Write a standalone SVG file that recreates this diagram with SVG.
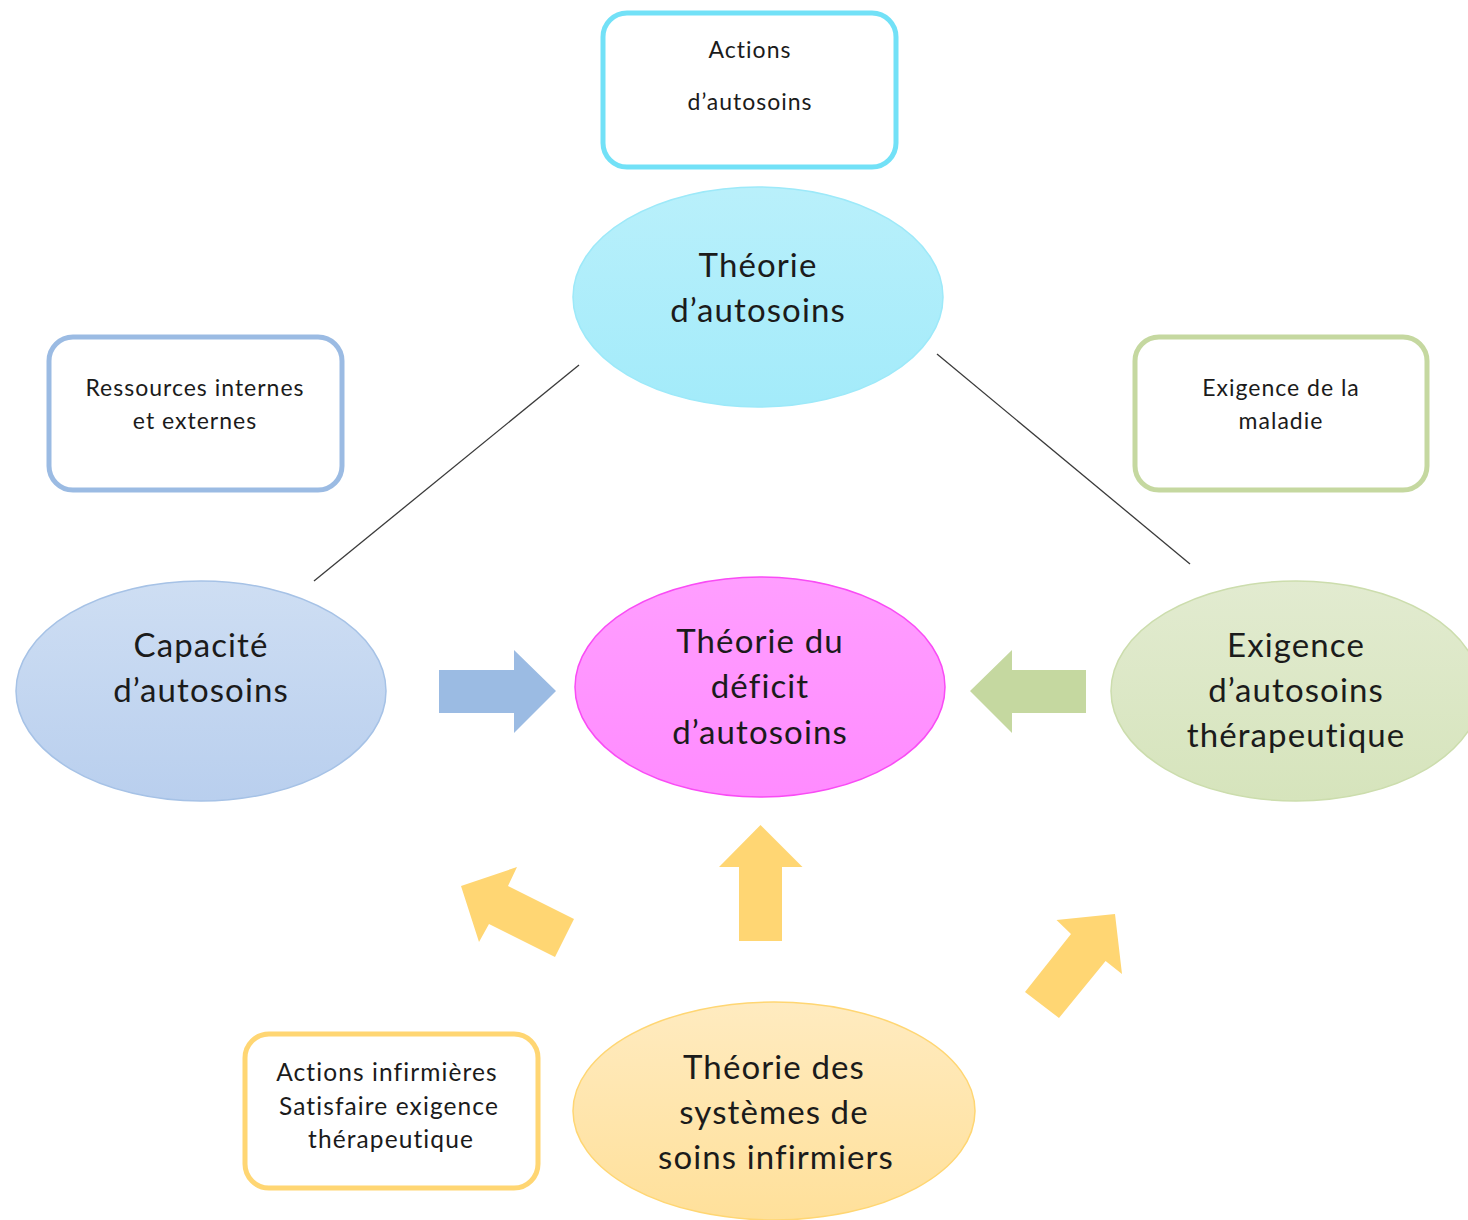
<svg xmlns="http://www.w3.org/2000/svg" width="1468" height="1220" viewBox="0 0 1468 1220">
  <defs>
    <linearGradient id="gCyan" x1="0" y1="0" x2="0" y2="1">
      <stop offset="0" stop-color="#B9F0FB"/>
      <stop offset="1" stop-color="#A3EBFA"/>
    </linearGradient>
    <linearGradient id="gBlue" x1="0" y1="0" x2="0" y2="1">
      <stop offset="0" stop-color="#CEDEF3"/>
      <stop offset="1" stop-color="#B9CFEE"/>
    </linearGradient>
    <linearGradient id="gPink" x1="0" y1="0" x2="0" y2="1">
      <stop offset="0" stop-color="#FF9EFF"/>
      <stop offset="1" stop-color="#FF8BFF"/>
    </linearGradient>
    <linearGradient id="gGreen" x1="0" y1="0" x2="0" y2="1">
      <stop offset="0" stop-color="#E2EBD0"/>
      <stop offset="1" stop-color="#D6E4BC"/>
    </linearGradient>
    <linearGradient id="gYellow" x1="0" y1="0" x2="0" y2="1">
      <stop offset="0" stop-color="#FFEBC0"/>
      <stop offset="1" stop-color="#FFE09A"/>
    </linearGradient>
  </defs>
  <style>
    text { font-family: Lato, "Open Sans", "Liberation Sans", sans-serif; fill: #1b1b1b; text-anchor: middle; font-variant-ligatures: none; }
    .big { font-size: 33px; letter-spacing: 1.1px; }
    .small { font-size: 23px; letter-spacing: 1px; }
    .mid { font-size: 24.5px; letter-spacing: 1.1px; }
    .box { fill: #ffffff; stroke-width: 5; }
    .link { stroke: #3a3a3a; stroke-width: 1.3; fill: none; }
  </style>
  <rect width="1468" height="1220" fill="#ffffff"/>

  <!-- connectors: lines and block arrows -->
  <g id="connectors">
    <line class="link" x1="579" y1="365" x2="314" y2="581"/>
    <line class="link" x1="937" y1="354" x2="1190" y2="564"/>
    <!-- blue arrow into deficit theory -->
    <polygon fill="#9BBBE3" points="439,670 514,670 514,650 556,691 514,733 514,713 439,713"/>
    <!-- green arrow into deficit theory -->
    <polygon fill="#C5D8A0" points="1086,670 1012,670 1012,650 970,691 1012,733 1012,713 1086,713"/>
    <!-- yellow arrows from nursing systems theory -->
    <polygon fill="#FFD673" points="760.5,825 802.5,867 782,867 782,941 739,941 739,867 719,867"/>
    <polygon fill="#FFD673" points="461,886 517,867 508,886 574,919 555,957 489,924 479,942"/>
    <polygon fill="#FFD673" points="1115,914 1122,974 1105.6,961 1059,1018 1025,992 1071,934 1056.5,920"/>
  </g>

  <g id="box-actions-autosoins">
    <rect class="box" x="603" y="13" width="293" height="154" rx="24" stroke="#72E1F7"/>
    <text class="small" x="750" y="58">Actions</text>
    <text class="small" x="750" y="110">d’autosoins</text>
  </g>

  <g id="node-theorie-autosoins">
    <ellipse cx="758" cy="297" rx="185" ry="110" fill="url(#gCyan)" stroke="#9DE9F9" stroke-width="1.5"/>
    <text class="big" x="758" y="277">Théorie</text>
    <text class="big" x="758" y="322">d’autosoins</text>
  </g>

  <g id="box-ressources">
    <rect class="box" x="49" y="337" width="293" height="153" rx="24" stroke="#9BBBE3"/>
    <text class="small" x="195" y="396">Ressources internes</text>
    <text class="small" x="195" y="429">et externes</text>
  </g>

  <g id="box-exigence-maladie">
    <rect class="box" x="1135" y="337" width="292" height="153" rx="24" stroke="#C5D8A0"/>
    <text class="small" x="1281" y="396">Exigence de la</text>
    <text class="small" x="1281" y="429">maladie</text>
  </g>

  <g id="node-capacite">
    <ellipse cx="201" cy="691" rx="185" ry="110" fill="url(#gBlue)" stroke="#A6C2E6" stroke-width="1.5"/>
    <text class="big" x="201" y="657">Capacité</text>
    <text class="big" x="201" y="702">d’autosoins</text>
  </g>

  <g id="node-deficit">
    <ellipse cx="760" cy="687" rx="185" ry="110" fill="url(#gPink)" stroke="#F94BF5" stroke-width="1.5"/>
    <text class="big" x="760" y="653">Théorie du</text>
    <text class="big" x="760" y="698">déficit</text>
    <text class="big" x="760" y="744">d’autosoins</text>
  </g>

  <g id="node-exigence-therapeutique">
    <ellipse cx="1296" cy="691" rx="185" ry="110" fill="url(#gGreen)" stroke="#CCDDAD" stroke-width="1.5"/>
    <text class="big" x="1296" y="657">Exigence</text>
    <text class="big" x="1296" y="702">d’autosoins</text>
    <text class="big" x="1296" y="747">thérapeutique</text>
  </g>

  <g id="box-actions-infirmieres">
    <rect class="box" x="245" y="1034" width="293" height="154" rx="24" stroke="#FFD673"/>
    <text class="mid" x="387" y="1081">Actions infirmières</text>
    <text class="mid" x="389" y="1115">Satisfaire exigence</text>
    <text class="mid" x="391" y="1148">thérapeutique</text>
  </g>

  <g id="node-systemes">
    <ellipse cx="774" cy="1111" rx="201" ry="109" fill="url(#gYellow)" stroke="#FFD673" stroke-width="1.5"/>
    <text class="big" x="774" y="1079">Théorie des</text>
    <text class="big" x="774" y="1124">systèmes de</text>
    <text class="big" x="776" y="1169">soins infirmiers</text>
  </g>
</svg>
